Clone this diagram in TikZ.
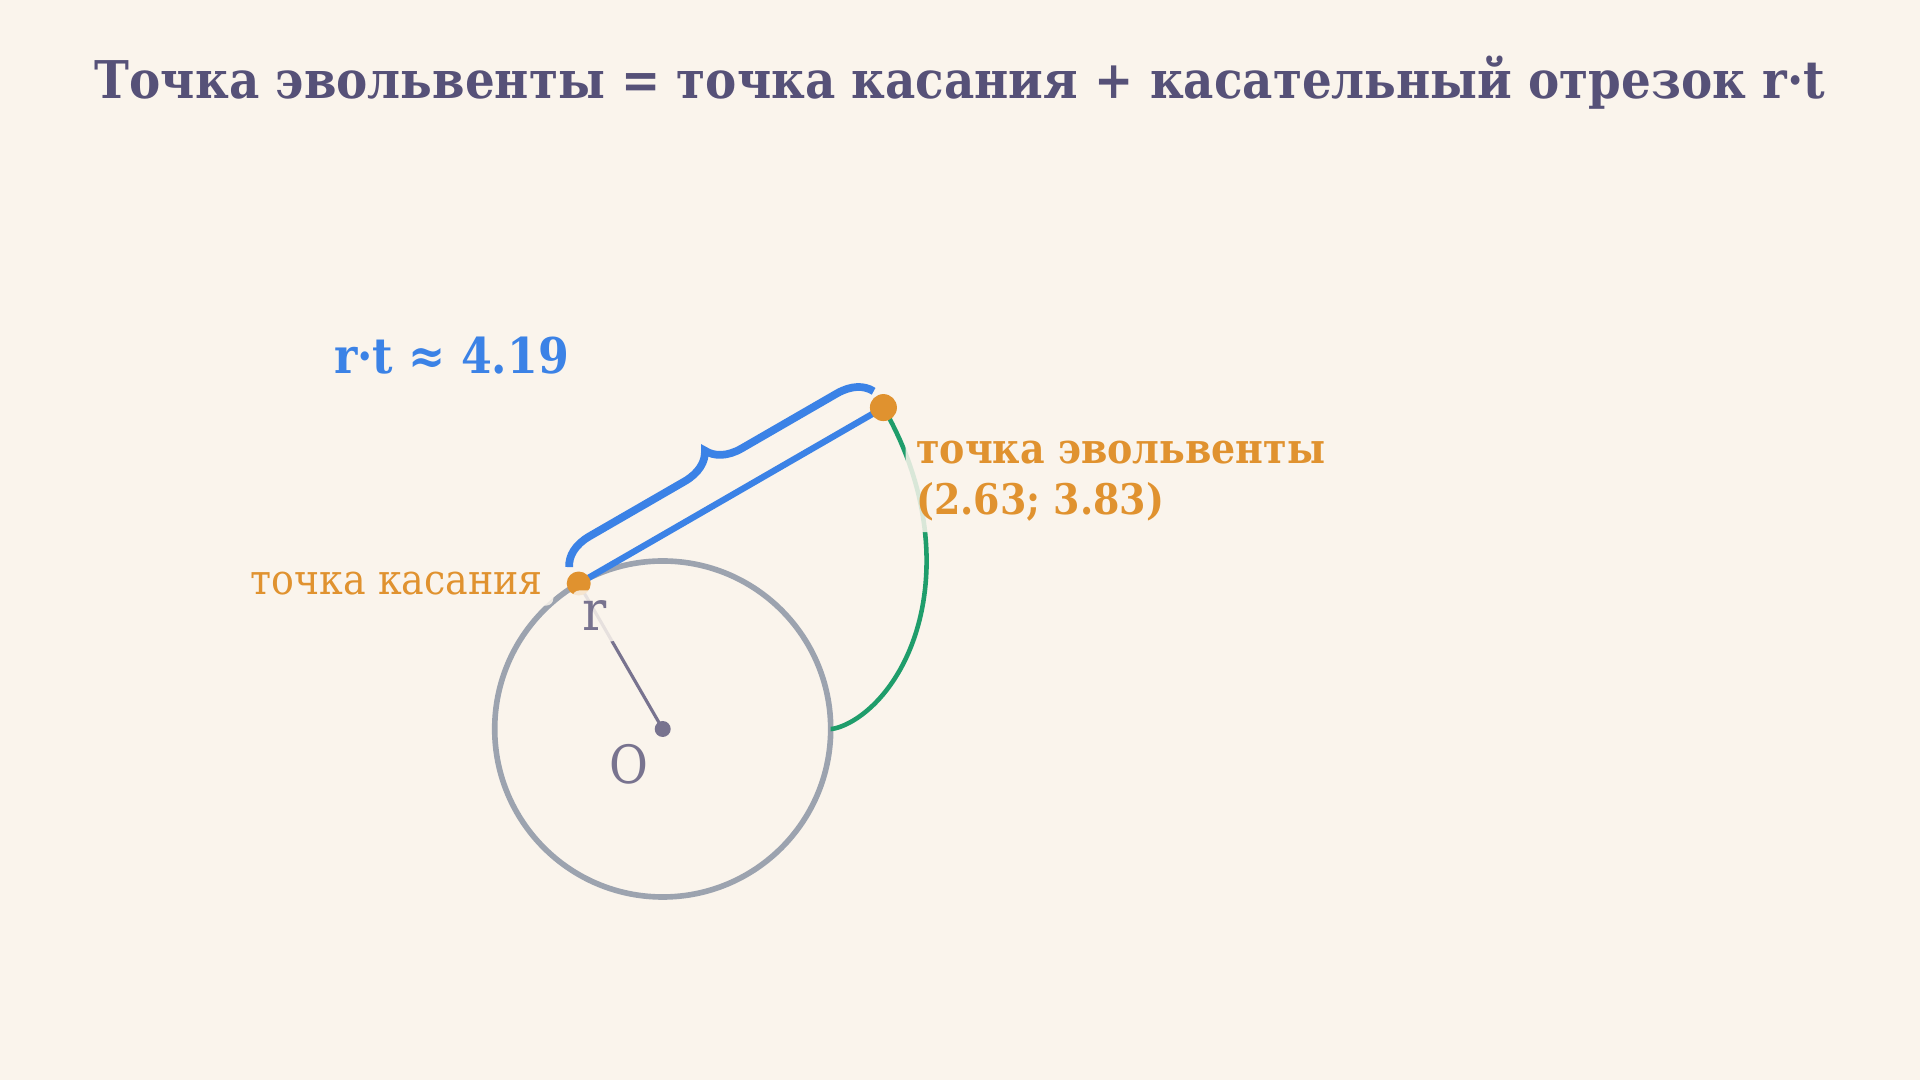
\documentclass[tikz,border=0pt]{standalone}
\usepackage{fontspec}
\setmainfont{DejaVu Serif Condensed}
\usetikzlibrary{positioning,decorations.pathreplacing}
\definecolor{bgcream}{HTML}{FAF4EC}
\definecolor{titlecol}{HTML}{565178}
\definecolor{tangblue}{HTML}{3B82E6}
\definecolor{pointorange}{HTML}{E0922F}
\definecolor{involgreen}{HTML}{1F9D6B}
\definecolor{circgray}{HTML}{9CA3AF}
\definecolor{radpurple}{HTML}{78738F}

\tikzset{
  lbl/.style={fill=bgcream, fill opacity=0.85, text opacity=1, rounded corners=2pt, inner sep=3pt},
  dot/.style={circle, fill=#1, inner sep=0pt},
  circ/.style={draw=circgray, line width=1.6pt},
  radline/.style={draw=radpurple, line width=0.9pt},
  invol/.style={draw=involgreen, line width=1.3pt},
  tang/.style={draw=tangblue, line width=1.8pt},
}

\begin{document}
\begin{tikzpicture}
    %%%%% FRAME %%%%%
    \fill[bgcream] (0,0) rectangle (19.2,10.8);
    \useasboundingbox (0,0) rectangle (19.2,10.8);

    \node[text=titlecol, font=\fontsize{14.8}{18}\selectfont\bfseries] (title) at (9.6,9.97)
        {Точка эвольвенты = точка касания + касательный отрезок r·t};

    %%%%% CIRCLE AND INVOLUTE %%%%%
    \begin{scope}[shift={(6.627,3.51)}, scale=0.84]
        \coordinate (O) at (0,0);
        \coordinate (T) at (120:2);
        \coordinate (P) at (2.6276,3.8264);

        \draw[circ] (O) circle (2);
        \draw[radline] (O) -- (T);
        \draw[invol] plot[domain=0:2.0944, samples=80]
            ({2*(cos(\x r)+\x*sin(\x r))},{2*(sin(\x r)-\x*cos(\x r))});
        \draw[tang] (T) -- (P);
        \draw[tang, line width=2.2pt, decorate,
              decoration={brace, amplitude=0.33cm, raise=0.19cm}] (T) -- (P);

        \node[dot=radpurple, minimum size=0.16cm] (Odot) at (O) {};
        \node[dot=pointorange, minimum size=0.24cm] (Tdot) at (T) {};
        \node[dot=pointorange, minimum size=0.27cm] (Pdot) at (P) {};
    \end{scope}

    %%%%% LABELS %%%%%
    \node[lbl, text=tangblue, font=\fontsize{14}{17}\selectfont\bfseries] (rtlbl) at (4.515,7.24)
        {r·t~≈~4.19};
    \node[lbl, text=pointorange, font=\fontsize{12}{14}\selectfont, left=0.12cm of Tdot] (tlbl)
        {точка касания};
    \node[lbl, text=radpurple, font=\fontsize{16}{18}\selectfont] (rlbl) at (5.95,4.64) {r};
    \node[lbl, text=radpurple, font=\fontsize{15}{17}\selectfont] (olbl) at (6.29,3.16) {O};
    \node[lbl, text=pointorange, font=\fontsize{12}{14.5}\selectfont\bfseries, align=left,
          anchor=north west] (plbl) at (9.05,6.50)
        {точка~эвольвенты\\(2.63;~3.83)};
\end{tikzpicture}
\end{document}
